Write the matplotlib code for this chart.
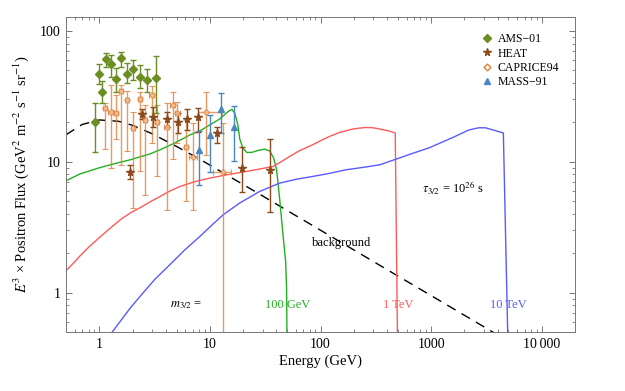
import matplotlib
matplotlib.use("Agg")
import matplotlib.pyplot as plt
from matplotlib.lines import Line2D
from matplotlib.ticker import LogLocator, FixedLocator, FixedFormatter, NullFormatter

plt.rcParams['font.family'] = ['Liberation Serif', 'DejaVu Serif']
plt.rcParams['mathtext.fontset'] = 'stix'

# background (dashed)
bg_e = [0.5, 0.7, 1, 1.5, 2, 3, 5, 7, 10, 20, 30, 50, 100, 200, 500, 1000, 2000, 5000, 10000]
bg_v = [16.1, 19.3, 20.9, 20.4, 19.0, 16.4, 13.1, 11.2, 9.44, 6.70, 5.48, 4.24, 3.00, 2.12, 1.34, 0.949, 0.671, 0.424, 0.30]

# gravitino decay spectra, m = 100 GeV, 1 TeV, 10 TeV
g_e = [0.5, 0.674, 1, 1.256, 1.90, 2.88, 3.54, 4.84, 6.61, 8.13, 10, 12.3, 14.5, 15.8, 16.8, 17.9,
       18.6, 19.8, 21.5, 23.9, 27.1, 31.3, 34.7, 37.7, 40.1, 42.8, 45.8, 47.4, 48.4, 49.4, 49.9]
g_v = [7.16, 8.10, 9.00, 9.49, 10.36, 11.5, 12.35, 13.96, 16.07, 17.25, 19.16, 21.3, 24.1, 25.2, 23.5, 19.2,
       15.0, 12.8, 11.8, 11.8, 12.2, 12.5, 12.1, 10.7, 8.69, 5.13, 2.77, 2.06, 1.72, 1.05, 0.3]

r_e = [0.5, 0.6, 0.674, 0.8, 1, 1.25, 1.55, 1.9, 2.34, 2.9, 3.54, 4.3, 5.37, 7.3, 10, 14.5, 21.3, 28, 37.2,
       44, 52.6, 65, 85, 100, 120, 150, 195, 225, 258, 300, 344, 418, 474, 499]
r_v = [1.47, 1.72, 1.92, 2.22, 2.63, 3.10, 3.61, 4.06, 4.46, 4.96, 5.43, 5.95, 6.48, 7.05, 7.51, 7.98, 8.43,
       8.80, 9.21, 10.0, 11.0, 12.2, 13.5, 14.5, 15.6, 16.8, 17.8, 18.1, 18.3, 18.2, 17.8, 17.2, 16.6, 0.3]

b_e = [1.31, 1.55, 1.9, 2.34, 3.2, 4.36, 6.0, 8.13, 10.5, 13.2, 18.6, 28.1, 42.7, 60, 85.1, 120, 170, 250, 344,
       517, 700, 962, 1250, 1612, 2186, 2690, 3100, 3660, 4500, 4990]
b_v = [0.50, 0.604, 0.76, 0.937, 1.27, 1.64, 2.14, 2.69, 3.30, 3.94, 4.84, 5.93, 6.87, 7.35, 7.73, 8.15, 8.69,
       9.10, 9.49, 10.7, 11.7, 12.8, 14.1, 15.5, 17.5, 18.2, 18.2, 17.5, 16.6, 0.3]

# data
ams_e = [0.92, 1.0, 1.06, 1.16, 1.27, 1.42, 1.57, 1.78, 2.01, 2.34, 2.72, 3.24]
ams_v = [20.3, 46.7, 34.4, 60.8, 56.0, 42.8, 62.5, 47.0, 51.0, 44.8, 42.3, 44.0]
ams_lo = [11.9, 39.2, 28.3, 53.5, 44.9, 34.4, 53.5, 39.7, 42.0, 36.5, 34.4, 23.6]
ams_hi = [28.3, 55.5, 41.6, 68.5, 65.6, 51.8, 69.6, 57.2, 60.0, 55.0, 51.2, 64.5]

heat_e = [1.90, 2.42, 3.08, 4.12, 5.18, 6.17, 7.85, 11.6, 19.5, 34.7]
heat_v = [8.34, 23.3, 21.9, 21.3, 20.1, 21.3, 22.2, 16.6, 8.89, 8.7]
heat_lo = [7.4, 21.2, 18.6, 18.6, 16.5, 17.5, 17.0, 13.9, 5.83, 4.1]
heat_hi = [9.4, 25.2, 26.2, 24.2, 23.8, 25.2, 25.7, 18.4, 13.0, 15.0]

capr_e = [1.12, 1.27, 1.42, 1.58, 1.78, 2.01, 2.34, 2.60, 2.98, 3.31, 4.07, 4.61, 5.08, 6.08, 7.07, 9.20, 13.2]
capr_v = [25.7, 24.2, 23.8, 34.8, 29.7, 18.1, 30.1, 21.0, 32.5, 20.3, 18.6, 27.2, 23.5, 12.9, 10.9, 24.2, 8.4]
capr_lo = [12.6, 8.9, 15.0, 9.5, 12.0, 4.4, 8.5, 5.6, 14.0, 7.8, 4.3, 10.5, 14.0, 5.0, 4.3, 11.2, 0.3]
capr_hi = [28.0, 38.6, 32.5, 38.6, 35.0, 24.0, 34.0, 27.0, 38.0, 27.0, 28.0, 34.0, 28.5, 21.0, 19.8, 34.0, 19.7]
capr_elo = [1.07, 1.21, 1.36, 1.51, 1.70, 1.92, 2.23, 2.48, 2.84, 3.16, 3.88, 4.40, 4.85, 5.80, 6.51, 7.80, 10.6]
capr_ehi = [1.17, 1.33, 1.49, 1.65, 1.86, 2.10, 2.45, 2.72, 3.12, 3.47, 4.26, 4.83, 5.32, 6.37, 7.68, 13.0, 15.5]

mass_e = [8.0, 10.0, 12.7, 16.6]
mass_v = [12.4, 16.1, 25.3, 18.6]
mass_lo = [6.7, 8.3, 16.6, 10.2]
mass_hi = [17.3, 22.8, 33.8, 26.7]

labels = ["AMS\u221201", "HEAT", "CAPRICE94", "MASS\u221291"]

c_ams = '#6b8e23'
c_heat = '#8b4a1c'
c_capr = '#e0803c'
c_mass = '#4a86c0'
c_g = '#22b022'
c_r = '#ff5a5a'
c_b = '#5a5aff'


def yerr(v, lo, hi):
    return [[a - b for a, b in zip(v, lo)], [b - a for a, b in zip(v, hi)]]


fig = plt.figure(figsize=(6.25, 3.91), dpi=100)
ax = fig.add_axes([0.1056, 0.151, 0.8144, 0.8055])

ax.plot(bg_e, bg_v, color='black', lw=1.0, dashes=(7, 5))
ax.plot(g_e, g_v, color=c_g, lw=1.0)
ax.plot(r_e, r_v, color=c_r, lw=1.0)
ax.plot(b_e, b_v, color=c_b, lw=1.0)

ax.errorbar(capr_e, capr_v, yerr=yerr(capr_v, capr_lo, capr_hi),
            xerr=yerr(capr_e, capr_elo, capr_ehi), fmt='D', ms=3,
            mfc='#f5c8a0', mec=c_capr, mew=0.8, color=c_capr, ecolor=c_capr,
            elinewidth=1.0, capsize=2, alpha=0.8)
ax.errorbar(ams_e, ams_v, yerr=yerr(ams_v, ams_lo, ams_hi), fmt='D', ms=4,
            color=c_ams, ecolor=c_ams, elinewidth=1.0, capsize=2)
ax.errorbar(heat_e, heat_v, yerr=yerr(heat_v, heat_lo, heat_hi), fmt='*', ms=5.5,
            color=c_heat, ecolor=c_heat, elinewidth=1.0, capsize=2)
ax.errorbar(mass_e, mass_v, yerr=yerr(mass_v, mass_lo, mass_hi), fmt='^', ms=4.5,
            color=c_mass, ecolor=c_mass, elinewidth=1.0, capsize=2)

ax.set_xscale('log')
ax.set_yscale('log')
ax.set_xlim(0.5, 2e4)
ax.set_ylim(0.5, 128)

ax.xaxis.set_major_locator(FixedLocator([1, 10, 100, 1000, 10000]))
ax.xaxis.set_major_formatter(FixedFormatter(["1", "10", "100", "1000", "10\u2009000"]))
ax.yaxis.set_major_locator(FixedLocator([1, 10, 100]))
ax.yaxis.set_major_formatter(FixedFormatter(["1", "10", "100"]))
ax.xaxis.set_minor_locator(LogLocator(base=10, subs=range(2, 10)))
ax.yaxis.set_minor_locator(LogLocator(base=10, subs=range(2, 10)))
ax.xaxis.set_minor_formatter(NullFormatter())
ax.yaxis.set_minor_formatter(NullFormatter())
ax.tick_params(which='both', direction='in', top=True, right=True, color='#777777',
               labelsize=10, pad=4)
ax.tick_params(which='major', length=4.5, width=0.7)
ax.tick_params(which='minor', length=2.3, width=0.6)
for s in ax.spines.values():
    s.set_color('#777777')
    s.set_linewidth(0.7)

ax.set_xlabel("Energy (GeV)", fontsize=10.5, labelpad=3)
ax.set_ylabel("$E^3$ \u00d7 Positron Flux (GeV$^2$ m$^{-2}$ s$^{-1}$ sr$^{-1}$)",
              fontsize=10.5, labelpad=6)

ax.text(154, 2.41, "background", fontsize=9, ha='center', va='center')
ax.text(1576, 6.23, r"$\tau_{3/2}$ = 10$^{26}$ s", fontsize=9, ha='center', va='center')
ax.text(6.1, 0.80, r"$m_{3/2}$ =", fontsize=9, ha='center', va='center')
ax.text(50, 0.80, "100 GeV", fontsize=9, ha='center', va='center', color=c_g)
ax.text(500, 0.80, "1 TeV", fontsize=9, ha='center', va='center', color=c_r)
ax.text(5000, 0.80, "10 TeV", fontsize=9, ha='center', va='center', color=c_b)

handles = [
    Line2D([], [], ls='none', marker='D', ms=4, color=c_ams),
    Line2D([], [], ls='none', marker='*', ms=5.5, color=c_heat),
    Line2D([], [], ls='none', marker='D', ms=3.5, mfc='white', mec=c_capr),
    Line2D([], [], ls='none', marker='^', ms=4.5, color=c_mass),
]
ax.legend(handles, labels, loc='upper left', bbox_to_anchor=(0.80, 0.975), frameon=False,
          fontsize=8.5, handlelength=1.0, handletextpad=0.4, labelspacing=0.2, borderpad=0.2)

plt.savefig("out.png", dpi=100)
